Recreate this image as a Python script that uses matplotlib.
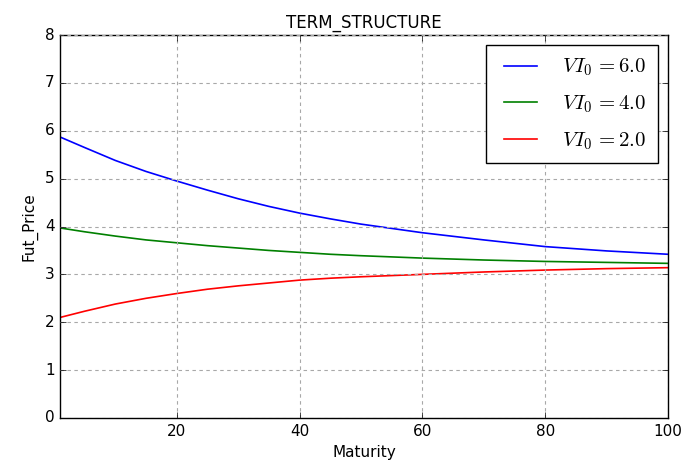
import matplotlib
matplotlib.use("Agg")
import matplotlib.pyplot as plt

# values at selected maturities
maturity = [1, 5, 10, 15, 20, 25, 30, 35, 40, 45, 50, 60, 70, 80, 90, 100]
vi_6 = [5.87, 5.65, 5.38, 5.15, 4.95, 4.76, 4.58, 4.42, 4.28, 4.16, 4.05, 3.87, 3.72, 3.58, 3.49, 3.42]
vi_4 = [3.97, 3.89, 3.80, 3.72, 3.66, 3.60, 3.55, 3.50, 3.46, 3.42, 3.39, 3.34, 3.30, 3.27, 3.25, 3.23]
vi_2 = [2.10, 2.23, 2.38, 2.50, 2.60, 2.69, 2.76, 2.82, 2.88, 2.92, 2.95, 3.00, 3.05, 3.09, 3.12, 3.14]
series = [(6.0, vi_6, "b"), (4.0, vi_4, "g"), (2.0, vi_2, "r")]

plt.style.use("classic")
plt.rcParams["mathtext.fontset"] = "cm"

fig = plt.figure(figsize=(6.99, 4.70), dpi=100, facecolor="white")
ax = fig.add_axes([60 / 699, 52 / 470, 608 / 699, 383 / 470])

for v0, vals, col in series:
    ax.plot(maturity, vals, color=col, lw=1.2, label=r"$VI_0\,{=}%.1f$" % v0)

ax.set_xlim(1, 100)
ax.set_ylim(0, 8)
ax.set_xticks([20, 40, 60, 80, 100])
ax.grid(True, color="#a8a8a8", linestyle=(0, (2.5, 2.5)), linewidth=0.8)
ax.set_title("TERM_STRUCTURE", fontsize=12)
ax.set_xlabel("Maturity", fontsize=11)
ax.set_ylabel("Fut_Price", fontsize=11)
ax.tick_params(labelsize=11)

leg = ax.legend(loc="upper right", fontsize=15, fancybox=False,
                labelspacing=0.72, handlelength=2.2, handletextpad=0.9,
                borderpad=0.55)
leg.get_frame().set_edgecolor("black")

fig.savefig("out.png", dpi=100, facecolor="white")
